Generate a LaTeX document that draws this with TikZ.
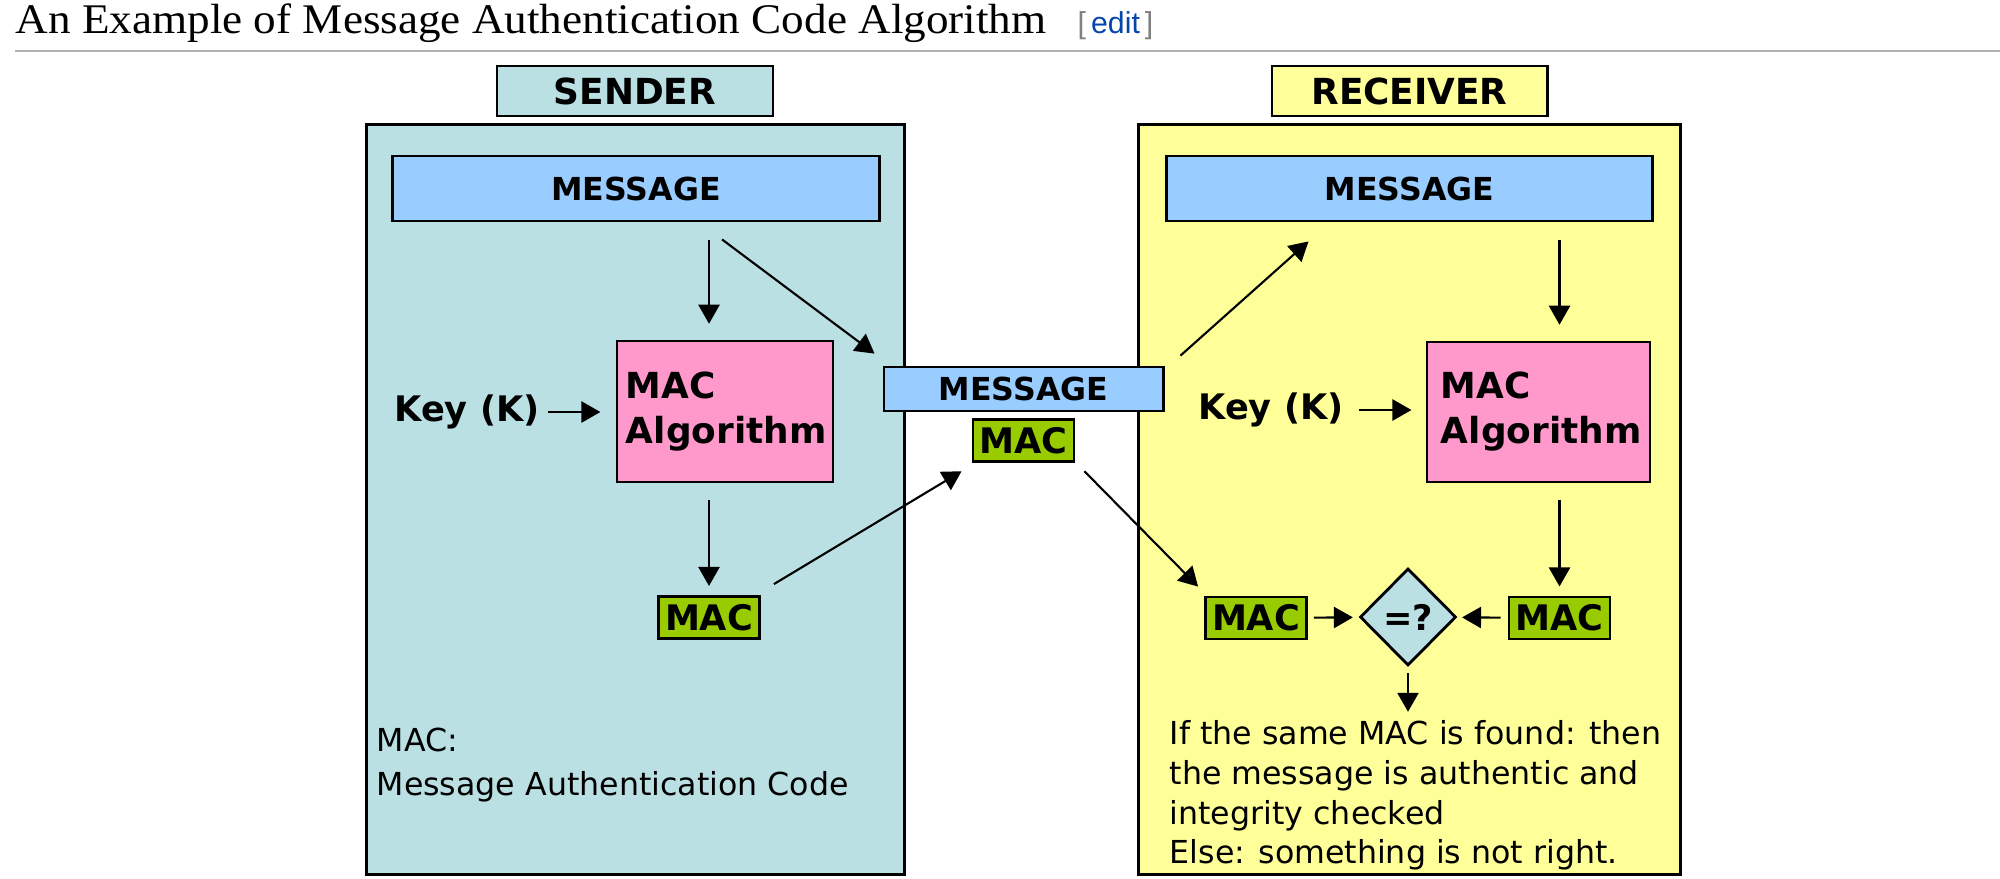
\documentclass[tikz,border=0pt]{standalone}
\usepackage{fontspec}
\setmainfont{DejaVu Sans}
\newfontfamily\titlefont{Liberation Serif}
\newfontfamily\editfont{Liberation Sans}
\usetikzlibrary{positioning,shapes.geometric,arrows.meta,calc}
\definecolor{senderbg}{HTML}{BBE0E3}
\definecolor{receiverbg}{HTML}{FFFF99}
\definecolor{msgblue}{HTML}{99CCFF}
\definecolor{algpink}{HTML}{FF99CC}
\definecolor{macgreen}{HTML}{99CC00}
\definecolor{linkblue}{HTML}{0645AD}

\begin{document}
\begin{tikzpicture}[
    x=0.01cm, y=-0.01cm,
    box/.style={
        rectangle,
        draw,
        line width=0.8pt,
        inner sep=0pt,
        align=center,
        font=\fontsize{10.2}{12}\selectfont\bfseries
    },
    frame/.style={box, minimum width=5.37cm, minimum height=7.49cm},
    label box/.style={box, minimum width=2.76cm, minimum height=0.5cm},
    message/.style={box, fill=msgblue, font=\fontsize{9}{11}\selectfont\bfseries},
    macbox/.style={box, fill=macgreen, minimum width=1.01cm, minimum height=0.42cm,
        font=\fontsize{10}{12}\selectfont\bfseries},
    algorithm/.style={box, fill=algpink, minimum height=1.41cm, align=left,
        font=\fontsize{10.2}{12.8}\selectfont\bfseries},
    keytext/.style={inner sep=0pt, font=\fontsize{10}{12}\selectfont\bfseries},
    note/.style={align=left, inner sep=0pt},
    arrow/.style={
        -{Triangle[length=5.4pt,width=6pt]},
        line width=0.6pt
    }
]
\useasboundingbox (0,0) rectangle (2000,878);

% Titolo
\node[anchor=base west, inner sep=0pt, font=\titlefont\fontsize{12}{14}\selectfont] (title) at (15,33)
    {\scalebox{1.07}[1]{An Example of Message Authentication Code Algorithm}};
\node[anchor=base west, inner sep=0pt, text=gray, font=\editfont\fontsize{8.6}{10}\selectfont] (edit) at (1077,33)
    {[\,\textcolor{linkblue}{edit}\,]};
\draw[gray!60, line width=0.6pt] (15,51) -- (2000,51);

% Riquadri
\node[frame, fill=senderbg] (sender) at (635.5,499.5) {};
\node[label box, fill=senderbg] (senderLbl) at (635,91) {SENDER};
\node[frame, fill=receiverbg, minimum width=5.41cm] (receiver) at (1409.5,499.5) {};
\node[label box, fill=receiverbg, minimum width=2.75cm] (receiverLbl) at (1409.5,91) {RECEIVER};

% Mittente
\node[message, minimum width=4.86cm, minimum height=0.65cm] (msgS) at (636,188.5) {MESSAGE};
\node[algorithm, text width=1.98cm, inner xsep=0.09cm] (algS) at (725,411.5) {MAC\\Algorithm};
\node[keytext] (keyS) at (467,412) {Key (K)};
\node[macbox] (macS) at (709,617.5) {MAC};
\node[note, anchor=west, font=\fontsize{9}{12.5}\selectfont] (noteS) at (376,765)
    {MAC:\\Message Authentication Code};

% Canale
\node[message, minimum width=2.79cm, minimum height=0.44cm] (msgM) at (1023.5,389) {MESSAGE};
\node[macbox, below=0.06cm of msgM] (macM) {MAC};

% Destinatario
\node[message, minimum width=4.85cm, minimum height=0.65cm] (msgR) at (1409.5,188.5) {MESSAGE};
\node[algorithm, text width=1.95cm, inner xsep=0.14cm, minimum height=1.40cm] (algR) at (1538.5,412) {MAC\\Algorithm};
\node[keytext] (keyR) at (1271,410) {Key (K)};
\node[macbox] (macR) at (1559.5,618) {MAC};
\node[macbox] (macL) at (1256,618) {MAC};
\node[diamond, draw, line width=0.8pt, fill=senderbg, minimum width=0.96cm, minimum height=0.97cm,
    inner sep=0pt, font=\fontsize{10}{12}\selectfont\bfseries] (check) at (1408,617) {=?};
\node[note, anchor=west, font=\fontsize{9}{11.3}\selectfont] (noteR) at (1169,795.5)
    {If the same MAC is found: then\\the message is authentic and\\integrity checked\\Else: something is not right.};

% Frecce mittente
\draw[arrow, shorten <=5pt, shorten >=4.5pt] (msgS.south -| macS) -- (algS.north -| macS);
\draw[arrow] ($(msgS.south)+(86,17)$) -- ($(msgM.north west)+(-8,-12)$);
\draw[arrow, shorten <=2.3pt, shorten >=4.3pt] (keyS) -- (keyS -| algS.west);
\draw[arrow, shorten <=4.8pt, shorten >=2.6pt] (algS.south -| macS) -- (macS);
\draw[arrow] ($(macS.north east)+(13,-11)$) -- ($(macM.south west)+(-10,8)$);

% Dal canale al destinatario
\draw[arrow] ($(macM.south east)+(9,8)$) -- ($(macL.north west)+(-6,-9)$);
\draw[arrow] ($(msgM.north east)+(16,-10)$) -- ($(msgR.south west)+(143,19)$);

% Frecce destinatario
\draw[arrow, shorten <=5pt, shorten >=4.5pt] (msgR.south -| macR) -- (algR.north -| macR);
\draw[arrow, shorten <=4.3pt, shorten >=4pt] (keyR) -- (keyR -| algR.west);
\draw[arrow, shorten <=4.8pt, shorten >=2.6pt] (algR.south -| macR) -- (macR);
\draw[arrow, shorten <=1.7pt, shorten >=1.7pt] (macL) -- (check);
\draw[arrow, shorten <=2pt, shorten >=1.4pt] (macR) -- (check);
\draw[arrow, shorten <=1.7pt, shorten >=2.3pt] (check) -- (check |- noteR.north);

\end{tikzpicture}
\end{document}
